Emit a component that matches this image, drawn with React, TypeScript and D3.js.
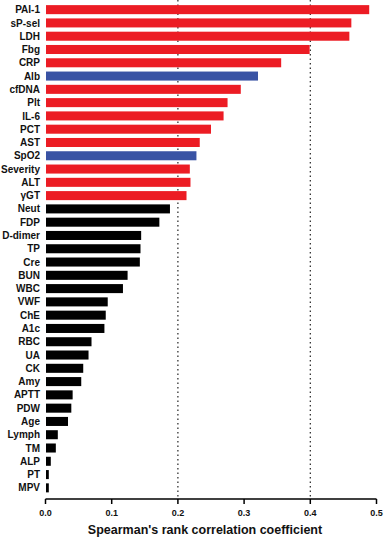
import React from "react";
import * as d3 from "d3";

const categories = ["PAI-1","sP-sel","LDH","Fbg","CRP","Alb","cfDNA","Plt","IL-6","PCT","AST","SpO2","Severity","ALT","γGT","Neut","FDP","D-dimer","TP","Cre","BUN","WBC","VWF","ChE","A1c","RBC","UA","CK","Amy","APTT","PDW","Age","Lymph","TM","ALP","PT","MPV"];
const values = [0.489,0.462,0.459,0.399,0.356,0.321,0.295,0.275,0.269,0.25,0.233,0.228,0.218,0.219,0.213,0.188,0.172,0.1445,0.1435,0.1425,0.124,0.117,0.094,0.091,0.089,0.0695,0.065,0.057,0.054,0.041,0.039,0.034,0.0186,0.0156,0.008,0.005,0.005];
const groups = ["pos","pos","pos","pos","pos","neg","pos","pos","pos","pos","pos","neg","pos","pos","pos","ns","ns","ns","ns","ns","ns","ns","ns","ns","ns","ns","ns","ns","ns","ns","ns","ns","ns","ns","ns","ns","ns"];
const xTicks = [0, 0.1, 0.2, 0.3, 0.4, 0.5];
const refLines = [0.2, 0.4];
const colors: Record<string, string> = { pos: "#ec1c24", neg: "#3953a4", ns: "#000000" };

export default function App() {
  const W = 384, H = 538;
  const x = d3.scaleLinear().domain([0, 0.5]).range([45.5, 376.5]);
  const y = d3.scaleBand<string>().domain(categories).range([3, 494.5]).paddingInner(0.32).paddingOuter(0.16);
  const axisY = 499;
  const font = "'Liberation Sans', Arial, sans-serif";
  return (
    <svg width={W} height={H} style={{ position: "absolute", left: 0, top: 0, background: "#fff" }}>
      {refLines.map((v) => (
        <line key={v} x1={x(v)} x2={x(v)} y1={0} y2={axisY} stroke="#222" strokeWidth={1.2} strokeDasharray="1.5,3" />
      ))}
      {categories.map((c, i) => (
        <rect key={c} x={x(0) + 0.5} y={y(c)} width={Math.max(0, x(values[i]) - x(0) - 0.5)} height={y.bandwidth()} fill={colors[groups[i]]} />
      ))}
      {categories.map((c) => (
        <text key={c} x={40} y={(y(c) as number) + y.bandwidth() / 2} dy="0.36em" textAnchor="end" fontFamily={font} fontWeight="bold" fontSize={10} fill="#111">{c}</text>
      ))}
      <line x1={x(0)} x2={x(0.5)} y1={axisY} y2={axisY} stroke="#000" strokeWidth={1.5} />
      {xTicks.map((t) => (
        <g key={t}>
          <line x1={x(t)} x2={x(t)} y1={axisY} y2={axisY + 5} stroke="#000" strokeWidth={1.5} />
          <text x={x(t)} y={516} textAnchor="middle" fontFamily={font} fontWeight="bold" fontSize={9} fill="#111">{t.toFixed(1)}</text>
        </g>
      ))}
      <text x={205} y={534} textAnchor="middle" fontFamily={font} fontWeight="bold" fontSize={12.5} fill="#111">Spearman's rank correlation coefficient</text>
    </svg>
  );
}
